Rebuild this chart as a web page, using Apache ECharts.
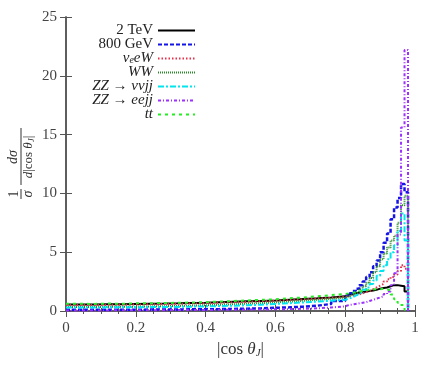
<!DOCTYPE html>
<html><head><meta charset="utf-8">
<script src="https://cdn.jsdelivr.net/npm/echarts@6/dist/echarts.min.js"></script>
<style>html,body{margin:0;padding:0;background:#fff}#c{width:440px;height:367px}</style>
</head><body><div id="c"></div>
<script>
// bin left edges: coarse (0..0.76 step 0.04), fine (0.80..0.97 step 0.01); last edge 0.98
const edges = [0,0.04,0.08,0.12,0.16,0.20,0.24,0.28,0.32,0.36,0.40,0.44,0.48,0.52,0.56,0.60,0.64,0.68,0.72,0.76,
  0.80,0.81,0.82,0.83,0.84,0.85,0.86,0.87,0.88,0.89,0.90,0.91,0.92,0.93,0.94,0.95,0.96,0.97];
const lastEdge = 0.98;
const names = ['2 TeV','800 GeV','νeW','WW','ZZ → ννjj','ZZ → eejj','tt'];
const v2TeV = [0.55,0.56,0.57,0.58,0.6,0.62,0.63,0.65,0.68,0.7,0.74,0.78,0.82,0.86,0.9,0.96,1.02,1.08,1.15,1.25,
  1.4,1.45,1.5,1.55,1.6,1.65,1.7,1.75,1.8,1.9,1.95,2.0,2.1,2.2,2.2,2.15,2.1,1.65];
const v800GeV = [0.1,0.1,0.1,0.11,0.11,0.12,0.12,0.13,0.14,0.15,0.16,0.18,0.2,0.23,0.27,0.31,0.37,0.45,0.6,0.85,
  1.3,1.5,1.7,1.9,2.2,2.5,2.9,3.3,3.8,4.3,5.0,5.8,6.6,7.8,8.8,9.6,10.8,10.1];
const vNuEW = [0.5,0.51,0.52,0.53,0.55,0.57,0.59,0.61,0.64,0.67,0.7,0.74,0.78,0.83,0.88,0.93,0.99,1.05,1.12,1.2,
  1.25,1.3,1.35,1.4,1.5,1.6,1.7,1.85,2.0,2.15,2.3,2.5,2.7,2.9,3.1,3.4,3.9,3.6];
const vWW = [0.33,0.34,0.35,0.36,0.37,0.39,0.41,0.43,0.46,0.49,0.53,0.57,0.62,0.67,0.73,0.8,0.87,0.95,1.04,1.14,
  1.25,1.35,1.5,1.65,1.85,2.1,2.4,2.8,3.3,3.8,4.4,4.9,5.4,6.0,6.4,7.5,9.0,9.8];
const vZZnn = [0.3,0.3,0.31,0.31,0.32,0.33,0.34,0.35,0.37,0.39,0.42,0.45,0.49,0.54,0.6,0.66,0.73,0.8,0.88,0.96,
  1.05,1.15,1.3,1.45,1.6,1.8,2.0,2.3,2.6,3.0,3.4,3.9,4.4,5.0,5.6,6.8,8.3,6.0];
const vZZee = [0.05,0.05,0.05,0.06,0.06,0.07,0.07,0.08,0.08,0.09,0.1,0.11,0.12,0.13,0.14,0.16,0.19,0.23,0.3,0.4,
  0.5,0.55,0.6,0.65,0.7,0.75,0.85,0.95,1.05,1.15,1.25,1.45,1.65,2.2,3.2,6.5,15.6,22.2];
const vTT = [0.62,0.6,0.63,0.62,0.65,0.66,0.68,0.7,0.72,0.75,0.8,0.85,0.9,0.95,1.0,1.08,1.15,1.25,1.35,1.45,
  1.5,1.55,1.6,1.65,1.7,1.75,1.8,1.85,1.85,1.85,1.9,1.85,1.75,1.4,1.0,0.7,0.5,0.1];
const xTicks = [0,0.2,0.4,0.6,0.8,1];
const yTicks = [0,5,10,15,20,25];

const values = [v2TeV,v800GeV,vNuEW,vWW,vZZnn,vZZee,vTT];
const colors = ['#000000','#1414e6','#e8304a','#2a8a2a','#00e5ee','#9b30ff','#22ee22'];
const dashes = ['solid',[4,2],[1.5,2],[1,1],[6,2,2,2],[3,2,1,2],[3,4]];
const widths = [2,2.5,2,2,2,2,2];
const legendRich = ['{r|2 TeV}','{r|800 GeV}','{i|ν}{s|e}{i|eW}','{i|WW}','{i|ZZ}{r| → }{i|ννjj}','{i|ZZ}{r| → }{i|eejj}','{i|tt}'];

const FONT = 'Liberation Serif';
const AX = '#555';
const series = names.map((n,k)=>({
  name:n, type:'line', step:'end', symbol:'none', showSymbol:false,
  data: edges.map((e,i)=>[e, values[k][i]]).concat([[lastEdge,0]]),
  lineStyle:{color:colors[k], width:widths[k], type:dashes[k]},
  itemStyle:{color:colors[k]}, z: 2+k
}));

const axisCommon = {
  min:0, axisLine:{lineStyle:{color:AX,width:1.5}},
  splitLine:{show:false}
};
const chart = echarts.init(document.getElementById('c'));
chart.setOption({
  animation:false,
  grid:{left:66,right:25,top:17,bottom:56},
  legend:{
    orient:'vertical', left:72, top:18, align:'right', itemGap:-1, itemWidth:37, itemHeight:10,
    data:names, itemStyle:{opacity:0},
    formatter:(n)=>legendRich[names.indexOf(n)],
    textStyle:{width:76, align:'right', fontFamily:FONT, fontSize:15, color:'#222', lineHeight:14,
      rich:{
        r:{fontFamily:FONT,fontSize:15,color:'#222',align:'right',lineHeight:14},
        i:{fontFamily:FONT,fontSize:15,fontStyle:'italic',color:'#222',align:'right',lineHeight:14},
        s:{fontFamily:FONT,fontSize:10,fontStyle:'italic',color:'#222',align:'right',verticalAlign:'bottom',lineHeight:10}
      }}
  },
  xAxis:[
    Object.assign({}, axisCommon, {type:'value', max:1, interval:0.2, position:'bottom',
      axisTick:{inside:true,length:6,lineStyle:{color:AX}},
      minorTick:{show:true,splitNumber:4,length:3,lineStyle:{color:AX}},
      axisLabel:{fontFamily:FONT,fontSize:15,color:'#444',margin:10,
        formatter:(v)=> xTicks.indexOf(+v.toFixed(2))>=0 ? String(+v.toFixed(2)) : ''},
      name:'{r||cos }{i|θ}{s|J}{r||}', nameLocation:'middle', nameGap:28,
      nameTextStyle:{rich:{
        r:{fontFamily:FONT,fontSize:17,color:'#333'},
        i:{fontFamily:FONT,fontSize:17,fontStyle:'italic',color:'#333'},
        s:{fontFamily:FONT,fontSize:11,fontStyle:'italic',color:'#333',verticalAlign:'bottom',padding:[8,0,0,0]}
      }}}),
    Object.assign({}, axisCommon, {type:'value', max:1, interval:0.2, position:'top',
      axisTick:{inside:true,length:6,lineStyle:{color:AX}},
      minorTick:{show:true,splitNumber:4,length:3,lineStyle:{color:AX}},
      axisLabel:{show:false}})
  ],
  yAxis:[
    Object.assign({}, axisCommon, {type:'value', max:25, interval:5, position:'left',
      axisTick:{inside:true,length:6,lineStyle:{color:AX}},
      axisLabel:{fontFamily:FONT,fontSize:15,color:'#444',margin:9}}),
    Object.assign({}, axisCommon, {type:'value', max:25, interval:5, position:'right',
      axisTick:{inside:true,length:6,lineStyle:{color:AX}},
      axisLabel:{show:false}})
  ],
  graphic:[{
    type:'group', x:21, y:165, rotation:Math.PI/2,
    children:[
      {type:'text', x:-29, y:-7, style:{text:'1', font:'14px "Liberation Serif"', fill:'#333', align:'center', verticalAlign:'middle'}},
      {type:'line', shape:{x1:-34,y1:0,x2:-24,y2:0}, style:{stroke:'#333',lineWidth:1}},
      {type:'text', x:-29, y:7, style:{text:'σ', font:'italic 14px "Liberation Serif"', fill:'#333', align:'center', verticalAlign:'middle'}},
      {type:'text', x:8, y:-8, style:{text:'dσ', font:'italic 14px "Liberation Serif"', fill:'#333', align:'center', verticalAlign:'middle'}},
      {type:'line', shape:{x1:-20,y1:0,x2:37,y2:0}, style:{stroke:'#333',lineWidth:1}},
      {type:'text', x:8, y:8, style:{
        text:'{i|d}{r||cos }{i|θ}{s|J}{r||}', align:'center', verticalAlign:'middle',
        rich:{
          r:{font:'13px "Liberation Serif"', fill:'#333'},
          i:{font:'italic 13px "Liberation Serif"', fill:'#333'},
          s:{font:'italic 9px "Liberation Serif"', fill:'#333', verticalAlign:'bottom', padding:[5,0,0,0]}
        }}}
    ]
  }],
  series: series
});
</script></body></html>
